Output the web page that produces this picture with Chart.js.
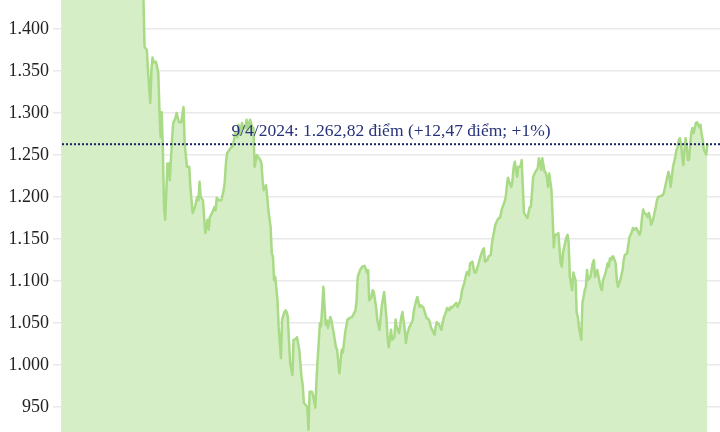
<!DOCTYPE html>
<html lang="vi">
<head>
<meta charset="utf-8">
<title>VN-Index</title>
<script src="https://cdn.jsdelivr.net/npm/chart.js@4.4.1/dist/chart.umd.min.js"></script>
<style>
  html, body { margin: 0; padding: 0; background: #fff; }
  #wrap { width: 720px; height: 432px; }
</style>
</head>
<body>
<div id="wrap"><canvas id="vnindex" width="720" height="432"></canvas></div>
<script>
// ==================================================
// 1. DATI: phiên giao dịch (số thứ tự) và điểm đóng cửa
// ==================================================
const sessions = [
  0, 4, 8, 12, 16, 20, 26, 32, 38, 44, 50, 56, 62, 66, 69,
  71, 72, 74, 75, 77, 78, 79, 80, 82, 84, 85, 86, 87, 88, 89, 90, 92, 93, 94, 96, 97, 99, 100,
  102, 104, 106, 107, 109, 111, 112, 113, 114, 116, 118, 119, 120, 121, 123, 124, 125, 127, 128, 129,
  131, 133, 134, 135, 137, 139, 141, 142, 143, 144, 146, 148, 149, 151, 153, 154, 155, 157, 158,
  160, 161, 162, 164, 166, 167, 168, 170, 171, 173, 174, 175, 176, 178, 179, 180, 182, 183, 184,
  185, 186, 188, 189, 191, 192, 194, 195, 196, 197, 199, 201, 202, 203, 205, 207, 209, 210, 211,
  214, 215, 216, 218, 219, 221, 222, 223, 225, 226, 228, 230, 231, 232, 234, 235, 237, 239, 240,
  242, 244, 245, 247, 249, 251, 253, 256, 257, 258, 260, 262, 264, 266, 267, 268, 270, 271, 272,
  274, 275, 277, 278, 279, 281, 283, 284, 285, 287, 288, 290, 291, 292, 294, 296, 297, 299, 300,
  301, 303, 305, 306, 307, 309, 310, 312, 313, 315, 316, 318, 320, 321, 322, 323, 325, 326, 327,
  329, 331, 332, 333, 335, 336, 338, 339, 340, 342, 344, 345, 347, 348, 349, 351, 353, 354, 355,
  356, 358, 359, 360, 361, 363, 365, 367, 368, 369, 371, 372, 374, 375, 376, 378, 380, 381, 382,
  384, 385, 387, 388, 389, 390, 392, 393, 394, 395, 397, 398, 400, 401, 402, 403, 404, 406, 408,
  409, 410, 411, 413, 415, 416, 417, 418, 419, 421, 422, 423, 424, 425, 427, 428, 429, 430, 432,
  433, 435, 436, 437, 438, 440, 441, 442, 443, 445, 446, 447, 448, 449, 450, 451, 453, 454, 455,
  456, 457, 458, 459, 461, 463, 464, 465, 466, 467, 469, 470, 471, 472, 474, 476, 477, 478, 479,
  480, 481, 483, 484, 485, 487, 489, 490, 491, 493, 494, 495, 497, 498, 499, 501, 503, 504, 505,
  506, 507, 508, 510, 511, 512, 513, 514, 516, 517, 518, 519, 520, 522, 524, 525, 526, 528, 529,
  530, 531, 532, 533, 535, 536, 537, 538, 539, 540, 541, 542, 543, 544, 545, 546, 547, 548, 549,
  550, 551, 552, 553, 554, 556, 557, 558, 559, 560, 561, 562, 563
];

const closes = [
  1525, 1500, 1470, 1475, 1445, 1480, 1505, 1495, 1470, 1455, 1480, 1500, 1520, 1490, 1465,
  1440, 1379, 1375, 1351, 1312, 1351, 1366, 1360, 1361, 1348, 1304, 1271, 1301, 1256, 1188, 1173, 1240, 1240, 1220, 1268, 1288, 1294, 1300,
  1289, 1289, 1307, 1264, 1236, 1236, 1212, 1196, 1181, 1188, 1200, 1196, 1218, 1200, 1196, 1176, 1157, 1173, 1161, 1176,
  1181, 1188, 1184, 1199, 1196, 1196, 1208, 1218, 1240, 1252, 1256, 1260, 1260, 1276, 1271, 1286, 1274, 1288, 1282,
  1283, 1292, 1280, 1292, 1283, 1282, 1236, 1250, 1248, 1244, 1240, 1220, 1208, 1214, 1200, 1185, 1164, 1133, 1129,
  1101, 1105, 1077, 1045, 1008, 1054, 1063, 1065, 1063, 1057, 1002, 988, 1030, 1030, 1033, 1018, 985, 976, 955,
  950, 923, 968, 968, 964, 949, 982, 1006, 1050, 1046, 1093, 1048, 1053, 1044, 1057, 1053, 1038, 1021, 1018,
  990, 1018, 1015, 1038, 1054, 1056, 1057, 1065, 1077, 1105, 1113, 1117, 1118, 1110, 1113, 1077, 1081, 1089, 1087,
  1069, 1054, 1042, 1057, 1071, 1087, 1057, 1033, 1021, 1042, 1030, 1033, 1054, 1045, 1038, 1057, 1063, 1042, 1026,
  1036, 1045, 1050, 1054, 1065, 1077, 1081, 1069, 1071, 1069, 1065, 1056, 1054, 1050, 1044, 1042, 1036, 1045, 1051,
  1048, 1042, 1050, 1056, 1063, 1068, 1065, 1069, 1068, 1071, 1074, 1069, 1075, 1080, 1089, 1098, 1110, 1111, 1107,
  1121, 1123, 1115, 1110, 1110, 1119, 1129, 1137, 1139, 1123, 1125, 1129, 1131, 1144, 1152, 1167, 1173, 1175, 1175,
  1187, 1190, 1199, 1212, 1223, 1218, 1212, 1220, 1236, 1242, 1224, 1236, 1236, 1244, 1212, 1181, 1179, 1175, 1188,
  1188, 1205, 1224, 1230, 1234, 1246, 1242, 1232, 1246, 1230, 1229, 1223, 1212, 1228, 1208, 1176, 1140, 1155, 1155,
  1157, 1121, 1117, 1133, 1140, 1152, 1155, 1145, 1105, 1089, 1110, 1105, 1101, 1062, 1057, 1045, 1030, 1074, 1081,
  1089, 1093, 1113, 1101, 1105, 1121, 1125, 1105, 1109, 1113, 1098, 1092, 1089, 1101, 1109, 1121, 1117, 1127, 1125,
  1129, 1129, 1121, 1101, 1093, 1101, 1113, 1125, 1131, 1133, 1143, 1152, 1158, 1163, 1161, 1163, 1157, 1155, 1161,
  1176, 1185, 1181, 1179, 1176, 1181, 1175, 1167, 1175, 1182, 1188, 1196, 1200, 1201, 1202, 1205, 1211, 1224, 1230,
  1224, 1212, 1224, 1236, 1248, 1256, 1259, 1268, 1270, 1264, 1248, 1238, 1256, 1270, 1259, 1244, 1244, 1264, 1277,
  1282, 1276, 1282, 1288, 1289, 1283, 1286, 1274, 1268, 1256, 1253, 1250.35, 1262.82
];

// Nhãn trục tung
const yTicks = [950, 1000, 1050, 1100, 1150, 1200, 1250, 1300, 1350, 1400];

// Phiên cuối cùng
const lastDate = "9/4/2024";
const lastClose = 1262.82;
const lastChange = 12.47;
const lastChangePct = 1;

// ==================================================
// 2. FORMATTAZIONE NUMERI (stile vi-VN)
// ==================================================
function fmtNumber(v, decimals) {
  const parts = v.toFixed(decimals).split(".");
  const intPart = parts[0].replace(/\B(?=(\d{3})+(?!\d))/g, ".");
  return parts.length > 1 ? intPart + "," + parts[1] : intPart;
}

// Linea tratteggiata + etichetta dell'ultima seduta
const lastCloseLine = {
  id: "lastCloseLine",
  afterDatasetsDraw(chart) {
    const { ctx, chartArea, scales } = chart;
    const y = scales.y.getPixelForValue(lastClose);
    ctx.save();
    ctx.strokeStyle = "#1b2462";
    ctx.lineWidth = 2;
    ctx.setLineDash([2, 2]);
    ctx.beginPath();
    ctx.moveTo(chartArea.left, y);
    ctx.lineTo(chartArea.right, y);
    ctx.stroke();
    ctx.setLineDash([]);

    const text = `${lastDate}: ${fmtNumber(lastClose, 2)} điểm (+${fmtNumber(lastChange, 2)} điểm; +${lastChangePct}%)`;
    ctx.font = '17.5px "Liberation Serif", serif';
    ctx.fillStyle = "#26327a";
    ctx.textAlign = "center";
    ctx.textBaseline = "alphabetic";
    ctx.fillText(text, chartArea.left + 329, y - 8);
    ctx.restore();
  }
};

// ==================================================
// 3. CHART.JS
// ==================================================
const ctx = document.getElementById("vnindex").getContext("2d");
new Chart(ctx, {
  type: "line",
  data: {
    datasets: [{
      data: sessions.map((s, i) => ({ x: s, y: closes[i] })),
      borderColor: "#a9da86",
      backgroundColor: "#d6eec6",
      borderWidth: 2.5,
      borderJoinStyle: "round",
      borderCapStyle: "round",
      pointRadius: 0,
      fill: "start",
      tension: 0
    }]
  },
  options: {
    responsive: false,
    animation: false,
    layout: { padding: 0 },
    plugins: {
      legend: { display: false },
      tooltip: { enabled: false }
    },
    scales: {
      x: {
        type: "linear",
        display: false,
        min: 0,
        max: 574
      },
      y: {
        min: 920.2,
        max: 1434.5,
        afterBuildTicks: axis => {
          axis.ticks = yTicks.map(v => ({ value: v }));
        },
        afterFit: axis => {
          // niente margine sopra/sotto: l'area del grafico occupa tutta l'altezza
          axis.width = 62;
          axis.paddingTop = 0;
          axis.paddingBottom = 0;
        },
        grid: {
          color: "#e9e9e9",
          lineWidth: 1.5,
          tickLength: 9
        },
        border: { color: "#e4e4e4", width: 2 },
        ticks: {
          padding: 4,
          color: "#222",
          font: { family: '"Liberation Serif", serif', size: 18 },
          callback: v => fmtNumber(v, 0)
        }
      }
    }
  },
  plugins: [lastCloseLine]
});
</script>
</body>
</html>
